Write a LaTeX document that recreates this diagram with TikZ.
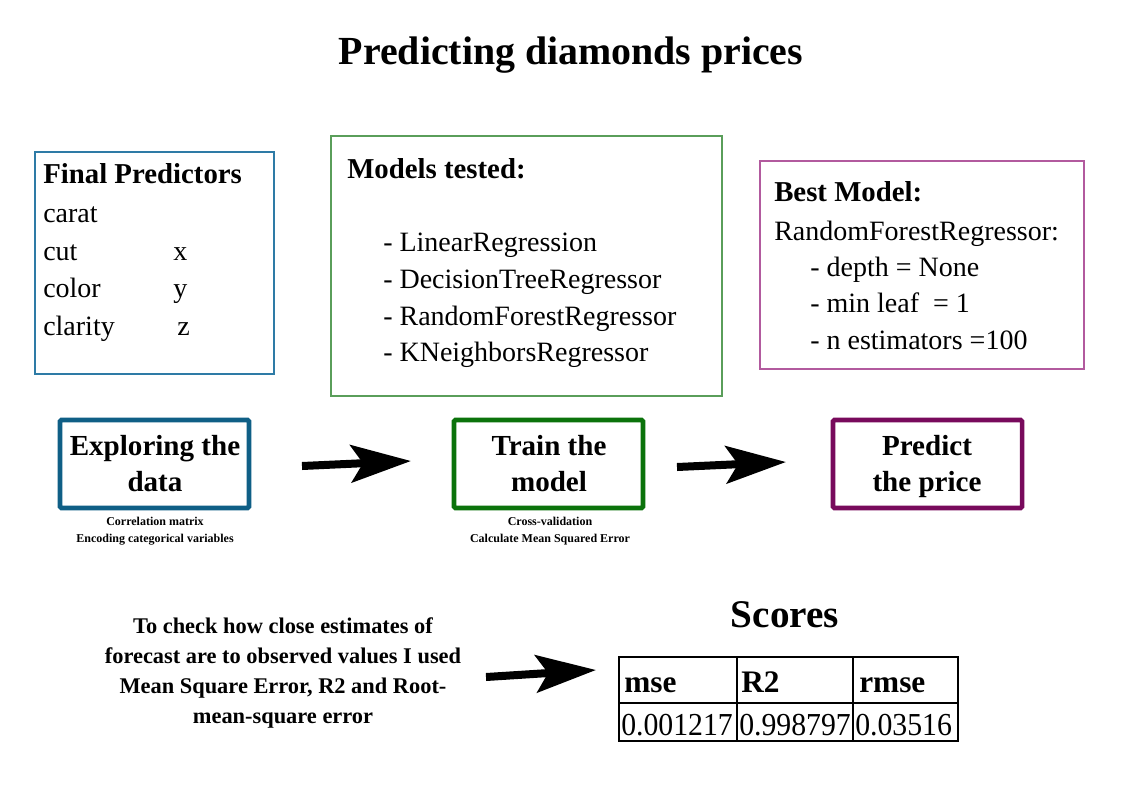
\documentclass[tikz,border=0pt]{standalone}
\usepackage{fontspec}
\usepackage{graphicx}
\setmainfont{Liberation Serif}
\usetikzlibrary{arrows.meta,fit}
\definecolor{fpthin}{HTML}{2E7BA6}
\definecolor{mtthin}{HTML}{5A9E5A}
\definecolor{bmthin}{HTML}{B25A9E}
\definecolor{exthick}{HTML}{0F5F86}
\definecolor{trthick}{HTML}{0B730B}
\definecolor{prthick}{HTML}{780A5C}
\tikzset{
  infobox/.style={draw=#1, line width=0.9pt, inner sep=0pt},
  flowbox/.style={draw=#1, line width=3.4pt, inner sep=0pt, rounded corners=1pt},
  boxhead/.style={anchor=base west, inner sep=0pt, font=\fontsize{21.6}{26}\selectfont\bfseries},
  boxtext/.style={anchor=base west, inner sep=0pt, font=\fontsize{21}{25}\selectfont},
  flowtext/.style={anchor=base, inner sep=0pt, font=\fontsize{21.8}{26}\selectfont\bfseries},
  smalltext/.style={anchor=base, inner sep=0pt, font=\fontsize{9}{11}\selectfont\bfseries},
  bigarrow/.style={line width=6pt, -{Stealth[length=45pt, width=28pt, inset=9pt]}},
  gridline/.style={line width=1.5pt},
  cellhead/.style={anchor=base west, inner sep=0pt, font=\fontsize{23.5}{27}\selectfont\bfseries},
  cellval/.style={anchor=base west, inner sep=0pt, font=\fontsize{24}{27}\selectfont},
}
\begin{document}
\begin{tikzpicture}[x=0.75pt,y=-0.75pt]
\path[use as bounding box, fill=white] (0,0) rectangle (1123,794);

% title
\node[inner sep=0pt, anchor=base, font=\fontsize{29.9}{34}\selectfont\bfseries] (title) at (571,64) {Predicting diamonds prices};

% info boxes
\node[infobox=fpthin, fit={(35,152) (274,374)}] (fpbox) {};
\node[boxhead] (fphead) at (43,183) {Final Predictors};
\node[boxtext] (fp1) at (43,222) {carat};
\node[boxtext] (fp2) at (43,260) {cut};
\node[boxtext] (fp3) at (43,297) {color};
\node[boxtext] (fp4) at (43,335) {clarity};
\node[boxtext] (fpx) at (173,260) {x};
\node[boxtext] (fpy) at (173,297) {y};
\node[boxtext] (fpz) at (177,335) {z};

\node[infobox=mtthin, fit={(331,136) (722,396)}] (mtbox) {};
\node[boxhead] (mthead) at (347,178) {Models tested:};
\node[boxtext] (mt1) at (383,251) {- LinearRegression};
\node[boxtext] (mt2) at (383,288) {- DecisionTreeRegressor};
\node[boxtext] (mt3) at (383,325) {- RandomForestRegressor};
\node[boxtext] (mt4) at (383,361) {- KNeighborsRegressor};

\node[infobox=bmthin, fit={(760,161) (1084,369)}] (bmbox) {};
\node[boxhead] (bmhead) at (774,201) {Best Model:};
\node[boxtext] (bm1) at (774,240) {RandomForestRegressor:};
\node[boxtext] (bm2) at (810,276) {- depth = None};
\node[boxtext] (bm3) at (810,312) {- min leaf \ = 1};
\node[boxtext] (bm4) at (810,349) {- n estimators =100};

% flow boxes
\node[flowbox=exthick, fit={(60,420) (249,508)}] (explore) {};
\node[flowtext] (exploretext1) at (155,455) {Exploring the};
\node[flowtext] (exploretext2) at (155,491) {data};
\node[smalltext] (exploresub1) at (155,525) {Correlation matrix};
\node[smalltext] (exploresub2) at (155,542) {Encoding categorical variables};

\node[flowbox=trthick, fit={(454,420) (643,508)}] (train) {};
\node[flowtext] (traintext1) at (549,455) {Train the};
\node[flowtext] (traintext2) at (549,491) {model};
\node[smalltext] (trainsub1) at (550,525) {Cross-validation};
\node[smalltext] (trainsub2) at (550,542) {Calculate Mean Squared Error};

\node[flowbox=prthick, fit={(833,420) (1022,508)}] (predict) {};
\node[flowtext] (predicttext1) at (927,455) {Predict};
\node[flowtext] (predicttext2) at (927,491) {the price};

% arrows
\coordinate (a1s) at (302,466); \coordinate (a1e) at (411,461);
\coordinate (a2s) at (677,467); \coordinate (a2e) at (786,462);
\coordinate (a3s) at (486,677); \coordinate (a3e) at (596,670);
\draw[bigarrow] (a1s) -- (a1e);
\draw[bigarrow] (a2s) -- (a2e);
\draw[bigarrow] (a3s) -- (a3e);

% bottom text
\node[align=center, inner sep=0pt, font=\fontsize{16.8}{22.5}\selectfont\bfseries] (note) at (283,673)
  {To check how close estimates of\\forecast are to observed values I used\\Mean Square Error, R2 and Root-\\mean-square error};

% scores
\node[inner sep=0pt, anchor=base, font=\fontsize{29.4}{34}\selectfont\bfseries] (scores) at (785,627) {Scores};

\draw[gridline] (619,657) rectangle (958,741);
\draw[gridline] (619,703) -- (958,703);
\draw[gridline] (737,657) -- (737,741);
\draw[gridline] (853,657) -- (853,741);
\node[cellhead] (h1) at (624,692) {mse};
\node[cellhead] (h2) at (741,692) {R2};
\node[cellhead] (h3) at (859,692) {rmse};
\node[cellval] (v1) at (621,735) {\scalebox{0.93}[1]{0.001217}};
\node[cellval] (v2) at (739,735) {\scalebox{0.93}[1]{0.998797}};
\node[cellval] (v3) at (855,735) {\scalebox{0.93}[1]{0.03516}};
\end{tikzpicture}
\end{document}
